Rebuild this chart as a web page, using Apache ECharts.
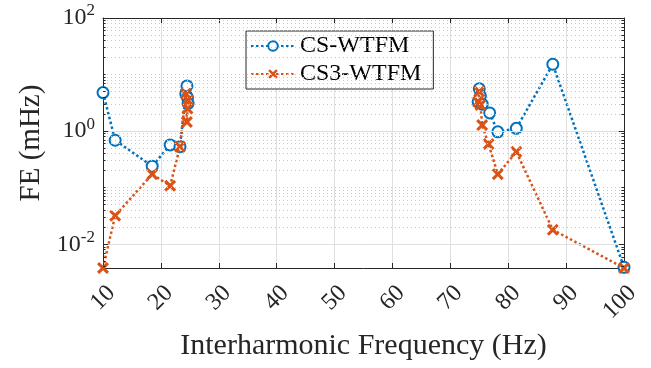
<!DOCTYPE html>
<html>
<head>
<meta charset="utf-8">
<script src="https://cdn.jsdelivr.net/npm/echarts@6/dist/echarts.min.js"></script>
<style>
  html, body {margin: 0; padding: 0; background: #fff;}
  #chart {width: 651px; height: 368px;}
</style>
</head>
<body>
<div id="chart"></div>
<script>
// frequencies (Hz) and errors (mHz)
let freqCS = [10, 12.1, 18.5, 21.6, 23.3, 24.3, 24.5, 24.6, 24.7, 74.8, 75.0, 75.2, 75.5, 76.8, 78.2, 81.4, 87.7, 100];
let feCS = [4.8, 0.69, 0.24, 0.57, 0.53, 4.6, 6.3, 3.9, 3.1, 3.3, 5.6, 4.2, 3.0, 2.1, 0.97, 1.12, 15.2, 0.0039];
let freqCS3 = [10, 12.1, 18.5, 21.6, 23.3, 24.3, 24.5, 24.6, 24.7, 74.8, 75.0, 75.2, 75.5, 76.6, 78.2, 81.4, 87.7, 100];
let feCS3 = [0.0038, 0.032, 0.173, 0.108, 0.53, 4.6, 1.45, 2.5, 3.5, 3.3, 5.0, 2.9, 1.28, 0.59, 0.173, 0.43, 0.018, 0.0038];
let xTicks = [10, 20, 30, 40, 50, 60, 70, 80, 90, 100];
let yMajor = [0.01, 1, 100];
let yMin = 0.0038, yMax = 100;

const serif = 'Liberation Serif';
const ink = '#262626';
const blue = '#0072BD';
const orange = '#D95319';
const crossPath = 'path://M0,1.8L1.8,0L5,3.2L8.2,0L10,1.8L6.8,5L10,8.2L8.2,10L5,6.8L1.8,10L0,8.2L3.2,5Z';

// line breaks between the two frequency groups
let toData = function (xs, ys) {
  let d = [];
  xs.forEach(function (x, i) {
    if (i > 0 && x - xs[i - 1] > 20) d.push('-');
    d.push([x, ys[i]]);
  });
  return d;
};

// minor grid values (2..9 x 10^k, plus odd decades)
let minorVals = [];
for (let k = -3; k <= 1; k++) {
  for (let m = 1; m <= 9; m++) {
    let v = m * Math.pow(10, k);
    if (m === 1 && k % 2 === 0) continue;
    if (v > yMin && v < yMax) minorVals.push(+v.toPrecision(3));
  }
}
let tickSeg = function (v, len) {
  return [
    [{coord: [10, v]}, {coord: [10 + len, v]}],
    [{coord: [100 - len, v]}, {coord: [100, v]}]
  ];
};
let minorTicks = [];
minorVals.forEach(function (v) {
  minorTicks = minorTicks.concat(tickSeg(v, 0.45));
});
let majorTicks = [];
yMajor.forEach(function (v) {
  majorTicks = majorTicks.concat(tickSeg(v, 0.9));
});
let majorGrid = yMajor.filter(v => v < yMax).map(v => ({yAxis: v}));
let yLabels = yMajor.map(v => ({
  yAxis: v,
  label: {formatter: '{b|10}{s|' + Math.round(Math.log10(v)) + '}'}
}));

let e1 = echarts.init(document.getElementById('chart'));
e1.setOption({
  animation: false,
  grid: {left: 103, right: 27, top: 18, bottom: 100},
  legend: {
    orient: 'vertical', left: 246, top: 31,
    backgroundColor: '#fff', borderColor: ink, borderWidth: 1,
    padding: [3, 12, 3, 4], itemGap: 4, itemWidth: 44, itemHeight: 12,
    textStyle: {fontFamily: serif, fontSize: 24, color: '#000'}
  },
  xAxis: [
    {
      type: 'value', min: 10, max: 100, interval: 10,
      name: 'Interharmonic Frequency (Hz)', nameLocation: 'middle', nameGap: 63,
      nameTextStyle: {fontFamily: serif, fontSize: 30, color: ink},
      axisLine: {lineStyle: {color: ink, width: 1}},
      axisTick: {inside: true, length: 5, lineStyle: {color: ink}},
      axisLabel: {
        rotate: 45, margin: 13, verticalAlign: 'top',
        fontFamily: serif, fontSize: 24, color: ink
      },
      splitLine: {show: true, lineStyle: {color: '#dfdfdf', width: 1}}
    },
    {
      type: 'value', min: 10, max: 100, interval: 10, position: 'top',
      axisLine: {show: true, lineStyle: {color: ink, width: 1}},
      axisTick: {inside: true, length: 5, lineStyle: {color: ink}},
      axisLabel: {show: false}, splitLine: {show: false}
    }
  ],
  yAxis: [
    {
      type: 'log', logBase: 10, min: yMin, max: yMax,
      name: 'FE (mHz)', nameLocation: 'middle', nameGap: 57,
      nameTextStyle: {fontFamily: serif, fontSize: 29, color: ink},
      axisLine: {show: true, lineStyle: {color: ink, width: 1}},
      axisTick: {show: false}, axisLabel: {show: false}, splitLine: {show: false}
    },
    {
      type: 'log', logBase: 10, min: yMin, max: yMax, position: 'right',
      axisLine: {show: true, lineStyle: {color: ink, width: 1}},
      axisTick: {show: false}, axisLabel: {show: false}, splitLine: {show: false}
    }
  ],
  series: [
    {
      // minor grid
      type: 'line', data: [], silent: true, z: 1,
      markLine: {
        silent: true, symbol: 'none', label: {show: false},
        lineStyle: {color: '#c8c8c8', type: [1, 3], width: 1},
        data: minorVals.map(v => ({yAxis: v}))
      }
    },
    {
      // major grid
      type: 'line', data: [], silent: true, z: 1,
      markLine: {
        silent: true, symbol: 'none', label: {show: false},
        lineStyle: {color: '#dfdfdf', type: 'solid', width: 1},
        data: majorGrid
      }
    },
    {
      // y tick labels
      type: 'line', data: [], silent: true, z: 2,
      markLine: {
        silent: true, symbol: 'none',
        lineStyle: {color: 'rgba(0,0,0,0)', width: 0},
        label: {
          show: true, position: 'start', distance: 8,
          rich: {
            b: {fontFamily: serif, fontSize: 24, color: ink},
            s: {fontFamily: serif, fontSize: 17, color: ink, padding: [0, 0, 14, 0]}
          }
        },
        data: yLabels
      }
    },
    {
      // y ticks on both sides
      type: 'line', data: [], silent: true, z: 2,
      markLine: {
        silent: true, symbol: 'none', label: {show: false},
        lineStyle: {color: ink, type: 'solid', width: 1},
        data: minorTicks.concat(majorTicks)
      }
    },
    {
      name: 'CS-WTFM', type: 'line', z: 3,
      data: toData(freqCS, feCS), connectNulls: false,
      symbol: 'emptyCircle', symbolSize: 11,
      lineStyle: {color: blue, width: 2.5, type: [2.5, 2.5]},
      itemStyle: {color: blue, borderColor: blue, borderWidth: 3}
    },
    {
      name: 'CS3-WTFM', type: 'line', z: 4,
      data: toData(freqCS3, feCS3), connectNulls: false,
      symbol: crossPath, symbolSize: 12,
      lineStyle: {color: orange, width: 2.5, type: [2.5, 2.5]},
      itemStyle: {color: orange}
    }
  ]
});
</script>
</body>
</html>
